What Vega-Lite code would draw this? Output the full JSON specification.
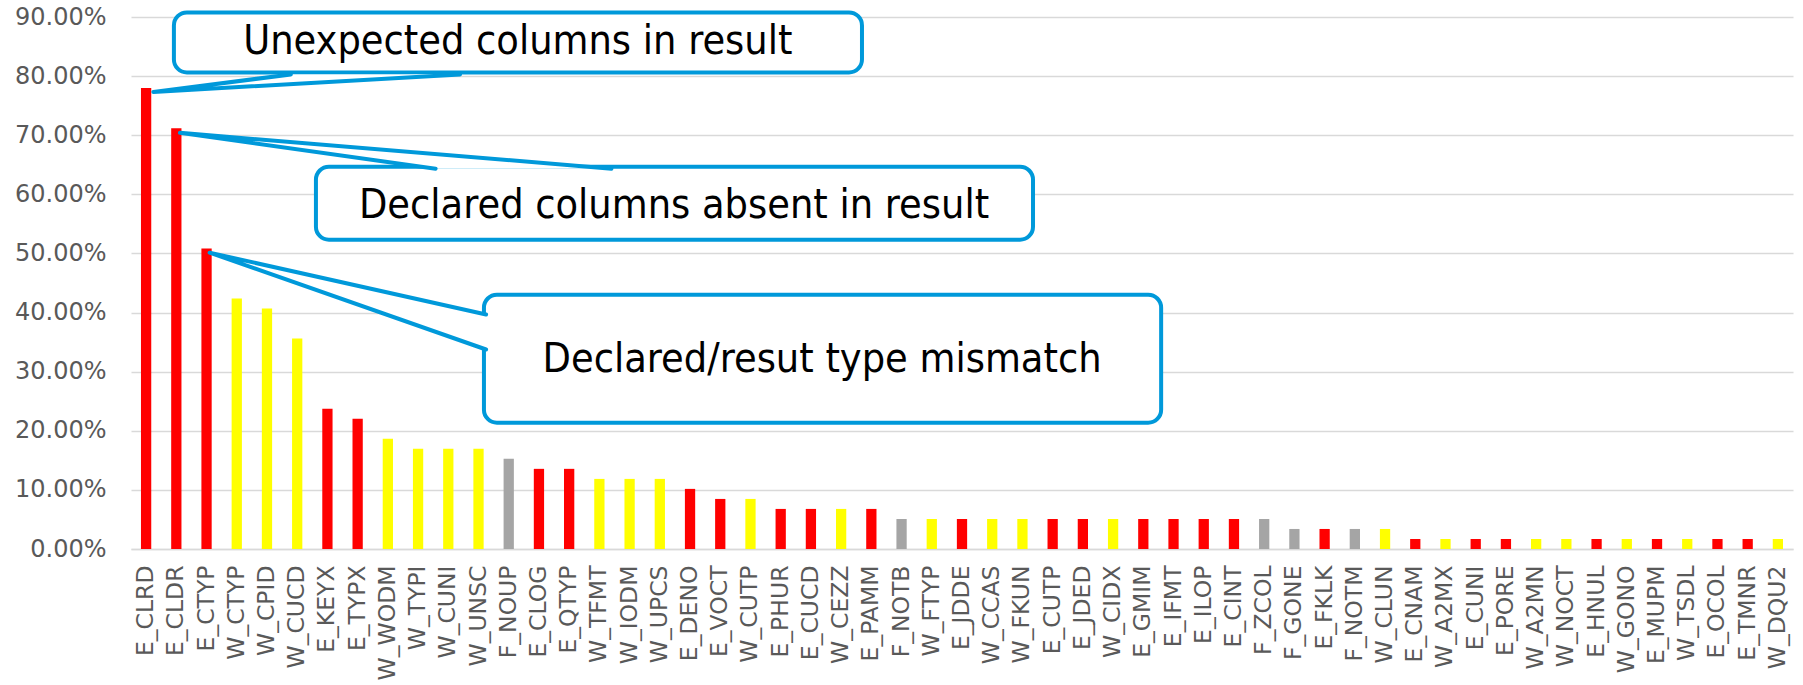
{
  "$schema": "https://vega.github.io/schema/vega-lite/v6.json",
  "width": 1662,
  "height": 532,
  "autosize": {"type": "none"},
  "padding": {"left": 131, "top": 17, "right": 10, "bottom": 136},
  "background": "white",
  "config": {
    "view": {"stroke": null},
    "axisY": {
      "format": ".2%", "tickCount": 10,
      "labelFontSize": 24, "labelFont": "DejaVu Sans", "labelColor": "#595959",
      "ticks": false, "domain": false, "grid": true, "gridColor": "#D9D9D9", "gridWidth": 1.5,
      "labelPadding": 25
    }
  },
  "datasets": {
    "bars": [
      {"id": "E_CLRD", "value": 0.7797, "kind": "E"},
      {"id": "E_CLDR", "value": 0.7119, "kind": "E"},
      {"id": "E_CTYP", "value": 0.5085, "kind": "E"},
      {"id": "W_CTYP", "value": 0.4237, "kind": "W"},
      {"id": "W_CPID", "value": 0.4068, "kind": "W"},
      {"id": "W_CUCD", "value": 0.3559, "kind": "W"},
      {"id": "E_KEYX", "value": 0.2373, "kind": "E"},
      {"id": "E_TYPX", "value": 0.2203, "kind": "E"},
      {"id": "W_WODM", "value": 0.1864, "kind": "W"},
      {"id": "W_TYPI", "value": 0.1695, "kind": "W"},
      {"id": "W_CUNI", "value": 0.1695, "kind": "W"},
      {"id": "W_UNSC", "value": 0.1695, "kind": "W"},
      {"id": "F_NOUP", "value": 0.1525, "kind": "F"},
      {"id": "E_CLOG", "value": 0.1356, "kind": "E"},
      {"id": "E_QTYP", "value": 0.1356, "kind": "E"},
      {"id": "W_TFMT", "value": 0.1186, "kind": "W"},
      {"id": "W_IODM", "value": 0.1186, "kind": "W"},
      {"id": "W_UPCS", "value": 0.1186, "kind": "W"},
      {"id": "E_DENO", "value": 0.1017, "kind": "E"},
      {"id": "E_VOCT", "value": 0.0847, "kind": "E"},
      {"id": "W_CUTP", "value": 0.0847, "kind": "W"},
      {"id": "E_PHUR", "value": 0.0678, "kind": "E"},
      {"id": "E_CUCD", "value": 0.0678, "kind": "E"},
      {"id": "W_CEZZ", "value": 0.0678, "kind": "W"},
      {"id": "E_PAMM", "value": 0.0678, "kind": "E"},
      {"id": "F_NOTB", "value": 0.0508, "kind": "F"},
      {"id": "W_FTYP", "value": 0.0508, "kind": "W"},
      {"id": "E_JDDE", "value": 0.0508, "kind": "E"},
      {"id": "W_CCAS", "value": 0.0508, "kind": "W"},
      {"id": "W_FKUN", "value": 0.0508, "kind": "W"},
      {"id": "E_CUTP", "value": 0.0508, "kind": "E"},
      {"id": "E_JDED", "value": 0.0508, "kind": "E"},
      {"id": "W_CIDX", "value": 0.0508, "kind": "W"},
      {"id": "E_GMIM", "value": 0.0508, "kind": "E"},
      {"id": "E_IFMT", "value": 0.0508, "kind": "E"},
      {"id": "E_ILOP", "value": 0.0508, "kind": "E"},
      {"id": "E_CINT", "value": 0.0508, "kind": "E"},
      {"id": "F_ZCOL", "value": 0.0508, "kind": "F"},
      {"id": "F_GONE", "value": 0.0339, "kind": "F"},
      {"id": "E_FKLK", "value": 0.0339, "kind": "E"},
      {"id": "F_NOTM", "value": 0.0339, "kind": "F"},
      {"id": "W_CLUN", "value": 0.0339, "kind": "W"},
      {"id": "E_CNAM", "value": 0.0169, "kind": "E"},
      {"id": "W_A2MX", "value": 0.0169, "kind": "W"},
      {"id": "E_CUNI", "value": 0.0169, "kind": "E"},
      {"id": "E_PORE", "value": 0.0169, "kind": "E"},
      {"id": "W_A2MN", "value": 0.0169, "kind": "W"},
      {"id": "W_NOCT", "value": 0.0169, "kind": "W"},
      {"id": "E_HNUL", "value": 0.0169, "kind": "E"},
      {"id": "W_GONO", "value": 0.0169, "kind": "W"},
      {"id": "E_MUPM", "value": 0.0169, "kind": "E"},
      {"id": "W_TSDL", "value": 0.0169, "kind": "W"},
      {"id": "E_OCOL", "value": 0.0169, "kind": "E"},
      {"id": "E_TMNR", "value": 0.0169, "kind": "E"},
      {"id": "W_DQU2", "value": 0.0169, "kind": "W"}
    ],
    "boxes": [
      {"box": 1, "x1": 1.42, "x2": 24.19, "y1": 0.9078, "y2": 0.8063},
      {"box": 2, "x1": 6.12, "x2": 29.85, "y1": 0.6468, "y2": 0.5233},
      {"box": 3, "x1": 11.68, "x2": 34.09, "y1": 0.4302, "y2": 0.2137}
    ],
    "wedges": [
      {"w": 1, "ord": 0, "x": 5.29, "y": 0.8029},
      {"w": 1, "ord": 1, "x": 0.74, "y": 0.7731},
      {"w": 1, "ord": 2, "x": 10.89, "y": 0.8029},
      {"w": 2, "ord": 0, "x": 10.08, "y": 0.6434},
      {"w": 2, "ord": 1, "x": 1.62, "y": 0.704},
      {"w": 2, "ord": 2, "x": 15.9, "y": 0.6434},
      {"w": 3, "ord": 0, "x": 11.75, "y": 0.3967},
      {"w": 3, "ord": 1, "x": 2.6, "y": 0.5013},
      {"w": 3, "ord": 2, "x": 11.75, "y": 0.3375}
    ],
    "labels": [
      {"txt": "Unexpected columns in result", "x": 12.8, "y": 0.857},
      {"txt": "Declared columns absent in result", "x": 17.97, "y": 0.5811},
      {"txt": "Declared/resut type mismatch", "x": 22.87, "y": 0.3202}
    ]
  },
  "resolve": {"scale": {"x": "independent"}},
  "layer": [
    {
      "data": {"name": "bars"},
      "mark": {"type": "bar"},
      "encoding": {
        "x": {
          "field": "id", "type": "nominal", "sort": null,
          "scale": {"paddingInner": 0.66, "paddingOuter": 0.33},
          "axis": {
            "title": null, "labelAngle": -90, "labelFontSize": 23.5, "labelFont": "DejaVu Sans",
            "labelColor": "#595959", "ticks": false, "domain": true, "domainColor": "#D9D9D9",
            "domainWidth": 1.5, "labelPadding": 16, "labelOverlap": false
          }
        },
        "y": {
          "field": "value", "type": "quantitative",
          "scale": {"domain": [0, 0.9], "nice": false},
          "axis": {"title": null}
        },
        "color": {
          "field": "kind", "type": "nominal",
          "scale": {"domain": ["E", "W", "F"], "range": ["#FF0000", "#FFFF00", "#A5A5A5"]},
          "legend": null
        }
      }
    },
    {
      "data": {"name": "boxes"},
      "mark": {"type": "rect", "fill": "white", "stroke": "#0099DA", "strokeWidth": 4, "cornerRadius": 13},
      "encoding": {
        "x": {"field": "x1", "type": "quantitative", "scale": {"domain": [0, 55], "nice": false, "zero": false}, "axis": null},
        "x2": {"field": "x2"},
        "y": {"field": "y1", "type": "quantitative", "axis": {"title": null}},
        "y2": {"field": "y2"}
      }
    },
    {
      "data": {"name": "wedges"},
      "mark": {"type": "line", "fill": "white", "stroke": "#0099DA", "strokeWidth": 4, "strokeJoin": "round", "strokeCap": "round"},
      "encoding": {
        "x": {"field": "x", "type": "quantitative", "scale": {"domain": [0, 55], "nice": false, "zero": false}, "axis": null},
        "y": {"field": "y", "type": "quantitative", "axis": {"title": null}},
        "order": {"field": "ord", "type": "quantitative"},
        "detail": {"field": "w", "type": "nominal"}
      }
    },
    {
      "data": {"name": "labels"},
      "mark": {"type": "text", "font": "DejaVu Sans Condensed", "fontSize": 41, "color": "black", "align": "center", "baseline": "middle"},
      "encoding": {
        "x": {"field": "x", "type": "quantitative", "scale": {"domain": [0, 55], "nice": false, "zero": false}, "axis": null},
        "y": {"field": "y", "type": "quantitative", "axis": {"title": null}},
        "text": {"field": "txt"}
      }
    }
  ]
}
